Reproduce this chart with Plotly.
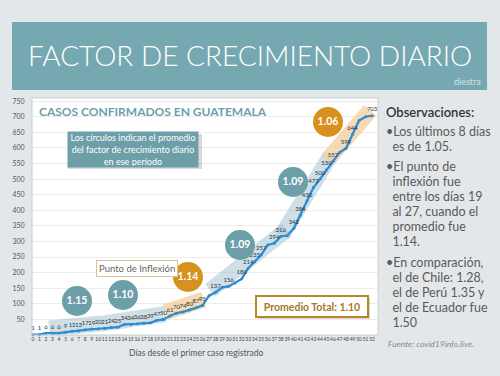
import plotly.graph_objects as go
import math

# ---------------- data ----------------
days = list(range(53))
cases = [1, 1, 6, 6, 6, 9, 12, 13, 17, 19, 20, 21, 24, 25, 34, 34, 36, 38, 39, 47,
         50, 61, 70, 74, 80, 87, 95, 126, 137, 153, 156, 167, 180, 214, 235, 257, 289,
         294, 316, 319, 342, 384, 430, 473, 500, 530, 557, 585, 599, 644, 688, 700, 703]
label_shown = [True] * 27 + [False, True, False, True, False, True, True, True, True, False,
                             True, True, False, True, True, True, True, True, True, True,
                             False, True, True, False, False, True]
period_start = [3, 11, 21, 28, 39, 46]
period_end = [10, 20, 26, 39, 46, 52]
period_factor = ["1.15", "1.10", "1.14", "1.09", "1.09", "1.06"]
period_kind = ["blue", "blue", "orange", "blue", "blue", "orange"]
y_ticks = list(range(50, 751, 50))
x_ticks = list(range(0, 53))

# ---------------- layout constants ----------------
W, H = 500, 376
ml, mt, pw, ph = 32, 98, 346, 237
mr, mb = W - ml - pw, H - mt - ph
XR = [-0.15, 52.9]
YR = [0, 760]
sx = pw / (XR[1] - XR[0])
sy = ph / (YR[1] - YR[0])

def pxx(x):  # pixel x -> paper
    return (x - ml) / pw

def pxy(y):  # pixel y -> paper
    return 1 - (y - mt) / ph

def to_data(px, py):
    return XR[0] + (px - ml) / sx, (mt + ph - py) / sy

TEAL = "#6c9fa8"
ORANGE = "#d8911d"
BG = "#e3e7ea"
band_col = {"blue": "rgba(165,196,214,0.55)", "orange": "rgba(243,204,156,0.75)"}
circ_col = {"blue": TEAL, "orange": ORANGE}
circle_px = [(77, 301), (123, 295), (188, 277), (240, 245), (293, 182), (328, 122)]

fig = go.Figure()

# bands behind the line segments
for a, b, kind in zip(period_start, period_end, period_kind):
    p0 = (a * sx, cases[a] * sy)
    p1 = (b * sx, cases[b] * sy)
    dx, dy = p1[0] - p0[0], p1[1] - p0[1]
    L = math.hypot(dx, dy)
    ux, uy = dx / L, dy / L
    nx, ny = -uy, ux
    ext = 3
    off, half = 5, 8
    pts = []
    for (bx, by), s in ((p0, -ext), (p1, ext)):
        pts.append((bx + ux * s + nx * (off - half), by + uy * s + ny * (off - half)))
    for (bx, by), s in ((p1, ext), (p0, -ext)):
        pts.append((bx + ux * s + nx * (off + half), by + uy * s + ny * (off + half)))
    pts.append(pts[0])
    fig.add_trace(go.Scatter(x=[p[0] / sx for p in pts], y=[p[1] / sy for p in pts],
                             fill="toself", fillcolor=band_col[kind], mode="none",
                             hoverinfo="skip", showlegend=False))

# main line
fig.add_trace(go.Scatter(
    x=days, y=cases, mode="lines+markers+text",
    line=dict(color="#2b8bd3", width=2.2),
    marker=dict(size=3, color="#2b8bd3"),
    text=[str(v) if s else "" for v, s in zip(cases, label_shown)],
    textposition="top center",
    textfont=dict(size=6, color="#333", family="Lato"),
    showlegend=False, cliponaxis=False))

# circles with period factors
cx, cy = zip(*[to_data(*c) for c in circle_px])
fig.add_trace(go.Scatter(
    x=list(cx), y=list(cy), mode="markers+text",
    marker=dict(size=30, color=[circ_col[k] for k in period_kind], line=dict(width=0)),
    text=period_factor, textposition="middle center",
    textfont=dict(size=10.5, color="white", family="Lato", weight="bold"),
    showlegend=False, hoverinfo="skip"))

shapes = []
# banner
shapes.append(dict(type="rect", xref="paper", yref="paper", x0=pxx(12), x1=pxx(487),
                   y0=pxy(22), y1=pxy(90), fillcolor="#76a8b1", line=dict(width=0), layer="below"))
# panel border
shapes.append(dict(type="rect", xref="paper", yref="paper", x0=0, x1=1, y0=0, y1=1,
                   line=dict(color="#c9cdd0", width=1), fillcolor="rgba(0,0,0,0)"))
# teal info box shadow
shapes.append(dict(type="rect", xref="paper", yref="paper", x0=pxx(68), x1=pxx(202),
                   y0=pxy(134), y1=pxy(169), fillcolor="rgba(0,0,0,0.15)", line=dict(width=0)))
# promedio box shadow
shapes.append(dict(type="rect", xref="paper", yref="paper", x0=pxx(258), x1=pxx(370),
                   y0=pxy(298), y1=pxy(319), fillcolor="rgba(0,0,0,0.15)", line=dict(width=0)))

ann = []

def add_text(text, x, y, size, color, xanchor="center", weight="normal", **kw):
    ann.append(dict(text=text, x=pxx(x), y=pxy(y), xref="paper", yref="paper",
                    xanchor=xanchor, yanchor="middle", showarrow=False,
                    font=dict(family="Lato", size=size, color=color, weight=weight), **kw))

add_text("FACTOR DE CRECIMIENTO DIARIO", 250, 55, 28, "white", weight=300)
add_text("diestra", 483, 81, 9, "rgba(255,255,255,0.7)", xanchor="right")
add_text("CASOS CONFIRMADOS EN GUATEMALA", 37, 111, 12, TEAL, xanchor="left", weight="bold")
add_text("Los círculos indican el promedio<br>del factor de crecimiento diario<br>en ese período",
         133, 149, 9, "white", bgcolor=TEAL, width=128, height=33, borderpad=1)
add_text("Punto de Inflexión", 137, 268, 9.5, "#666", bgcolor="white", bordercolor="#d7c397",
         borderwidth=1, borderpad=2)
add_text("Promedio Total: 1.10", 312, 306, 10.5, "#a8772a", weight="bold", bgcolor="white",
         bordercolor="#b9862a", borderwidth=2, width=106, height=15, borderpad=2)
add_text("Días desde el primer caso registrado", 196, 353, 8.5, "#555")

# right-side observations
right_lines = [
    ("Observaciones:", 112, 13, "#333", 600),
    ("•Los últimos 8 días", 131, 12.5, "#5a5a5a", "normal"),
    ("  es de 1.05.", 146, 12.5, "#5a5a5a", "normal"),
    ("•El punto de", 166, 12.5, "#5a5a5a", "normal"),
    ("  inflexión fue", 181, 12.5, "#5a5a5a", "normal"),
    ("  entre los días 19", 196, 12.5, "#5a5a5a", "normal"),
    ("  al 27, cuando el", 211, 12.5, "#5a5a5a", "normal"),
    ("  promedio fue", 226, 12.5, "#5a5a5a", "normal"),
    ("  1.14.", 241, 12.5, "#5a5a5a", "normal"),
    ("•En comparación,", 262, 12.5, "#5a5a5a", "normal"),
    ("  el de Chile: 1.28,", 277, 12.5, "#5a5a5a", "normal"),
    ("  el de Perú 1.35 y", 292, 12.5, "#5a5a5a", "normal"),
    ("  el de Ecuador fue", 307, 12.5, "#5a5a5a", "normal"),
    ("  1.50", 322, 12.5, "#5a5a5a", "normal"),
]
for t, y, s, c, w in right_lines:
    add_text(t.replace("  ", "&nbsp;&nbsp;"), 384, y, s, c, xanchor="left", weight=w)
add_text("<i>Fuente: covid19info.live.</i>", 386, 344, 8.5, "#888", xanchor="left")

fig.update_layout(
    width=W, height=H, margin=dict(l=ml, r=mr, t=mt, b=mb),
    paper_bgcolor=BG, plot_bgcolor="white",
    shapes=shapes, annotations=ann, showlegend=False,
    xaxis=dict(range=XR, tickvals=x_ticks, showgrid=False, zeroline=False, showline=False,
               tickfont=dict(size=5, color="#444", family="Liberation Sans Narrow, Lato"),
               tickangle=0, fixedrange=True),
    yaxis=dict(range=YR, tickvals=y_ticks, showgrid=True, gridcolor="#ececec", gridwidth=1,
               zeroline=False, showline=False, ticks="outside", ticklen=5, tickcolor="rgba(0,0,0,0)",
               tickfont=dict(size=7, color="#555", family="Lato"), fixedrange=True),
)

fig.write_html("out.html", config={"displayModeBar": False}, post_script=(
    "document.body.style.margin='0';document.body.style.padding='0';"
    "document.body.style.background='" + BG + "';"))
